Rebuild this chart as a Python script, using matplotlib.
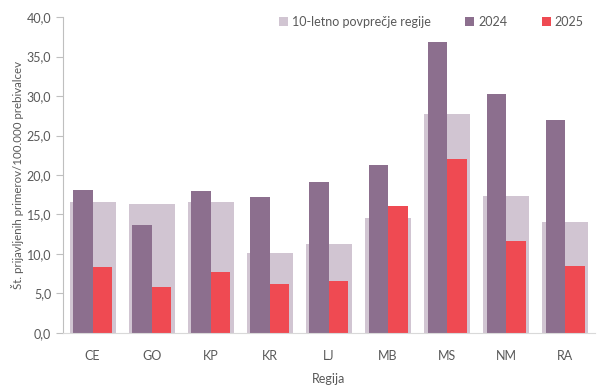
import numpy as np
import matplotlib.pyplot as plt
from matplotlib.ticker import FuncFormatter

regions = ["CE", "GO", "KP", "KR", "LJ", "MB", "MS", "NM", "RA"]
avg_10y = [16.6, 16.3, 16.6, 10.1, 11.3, 14.6, 27.7, 17.3, 14.1]
y2024 = [18.1, 13.7, 18.0, 17.2, 19.1, 21.3, 36.8, 30.3, 27.0]
y2025 = [8.35, 5.8, 7.7, 6.2, 6.6, 16.1, 22.0, 11.6, 8.5]

C_AVG = "#D1C5D2"
C_24 = "#8C6F8E"
C_25 = "#EF4A52"
TXT = "#595959"

plt.rcParams["font.family"] = ["Lato", "DejaVu Sans"]

fig = plt.figure(figsize=(6.12, 3.88), dpi=100)
ax = fig.add_axes([0.103, 0.142, 0.869, 0.814])

x = np.arange(len(regions))
ax.bar(x, avg_10y, width=0.78, color=C_AVG, label="10-letno povprečje regije", zorder=1)
ax.bar(x - 0.165, y2024, width=0.33, color=C_24, label="2024", zorder=2)
ax.bar(x + 0.165, y2025, width=0.33, color=C_25, label="2025", zorder=2)

ax.set_xlim(-0.5, len(regions) - 0.5)
ax.set_ylim(0, 40)
ax.set_yticks(np.arange(0, 41, 5))
ax.yaxis.set_major_formatter(FuncFormatter(lambda v, p: ("%.1f" % v).replace(".", ",")))
ax.set_xticks(x)
ax.set_xticklabels(regions)

for s in ["top", "right"]:
    ax.spines[s].set_visible(False)
ax.spines["left"].set_color("#BFBFBF")
ax.spines["bottom"].set_color("#D9D9D9")
ax.tick_params(axis="y", colors="#BFBFBF", labelcolor=TXT, labelsize=9, length=5)
ax.tick_params(axis="x", length=0, labelcolor=TXT, labelsize=9, pad=12)

ax.set_xlabel("Regija", color=TXT, fontsize=9, labelpad=8)
ax.set_ylabel("Št. prijavljenih primerov/100.000 prebivalcev", color=TXT, fontsize=8.3, labelpad=2)

leg = ax.legend(loc="upper right", bbox_to_anchor=(1.0, 1.04), ncol=3, frameon=False,
                fontsize=9, handlelength=0.7, handleheight=0.7, handletextpad=0.3,
                columnspacing=2.8, labelcolor=TXT)

fig.savefig("out.png", dpi=100)
